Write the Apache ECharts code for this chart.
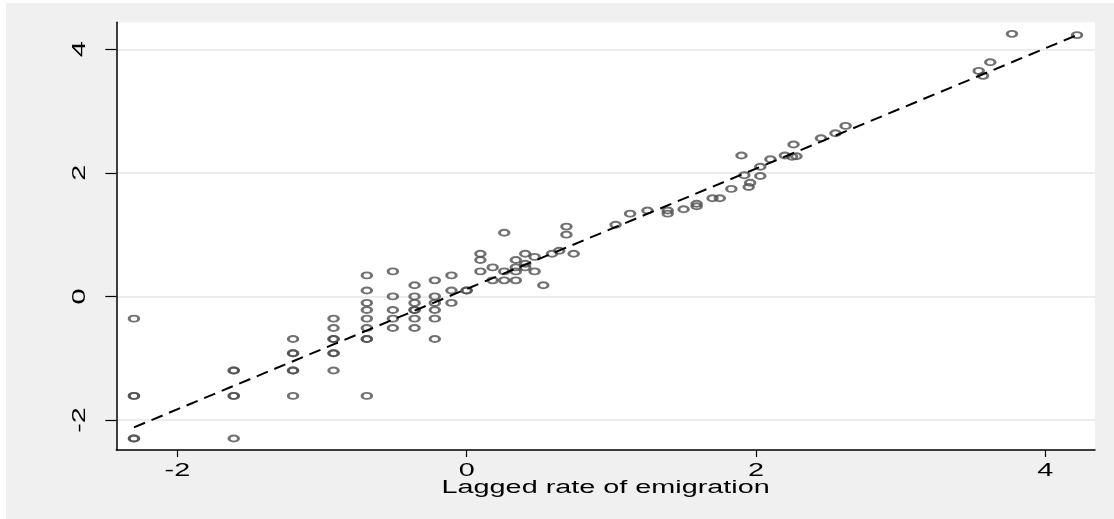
<!DOCTYPE html>
<html><head><meta charset="utf-8">
<script src="https://cdn.jsdelivr.net/npm/echarts@6/dist/echarts.min.js"></script>
<style>
html,body{margin:0;padding:0;background:#fff;}
#c{position:absolute;left:6px;top:3px;width:1108px;height:516px;background:#f0f0f0;}
</style>
</head><body><div id="c"></div>
<script>
// Lagged rate of emigration (x) and current rate (y)
const lagged = [
  -2.30,-2.30,-2.30,-2.30,-2.30,
  -1.61,-1.61,-1.61,-1.61,-1.61,
  -1.20,-1.20,-1.20,-1.20,-1.20,-1.20,
  -0.92,-0.92,-0.92,-0.92,-0.92,-0.92,-0.92,
  -0.69,-0.69,-0.69,-0.69,-0.69,-0.69,-0.69,-0.69,-0.69,
  -0.51,-0.51,-0.51,-0.51,-0.51,
  -0.36,-0.36,-0.36,-0.36,-0.36,-0.36,-0.36,
  -0.22,-0.22,-0.22,-0.22,-0.22,-0.22,
  -0.105,-0.105,-0.105,
  0.00,0.00,
  0.095,0.095,0.095,
  0.18,0.18,
  0.26,0.26,0.26,
  0.34,0.34,0.34,0.34,
  0.405,0.405,0.405,
  0.47,0.47,
  0.53,0.59,0.64,0.69,0.69,0.74,
  1.03,1.13,1.25,1.39,1.39,1.50,1.59,1.59,1.70,1.75,1.83,1.90,1.92,1.95,1.96,
  2.03,2.03,2.10,2.20,2.26,2.25,2.28,2.45,2.55,2.62,
  3.54,3.57,3.62,3.77,4.22
];
const current = [
  -0.36,-1.61,-1.61,-2.30,-2.30,
  -1.20,-1.20,-1.61,-1.61,-2.30,
  -0.69,-0.92,-0.92,-1.20,-1.20,-1.61,
  -0.36,-0.51,-0.69,-0.69,-0.92,-0.92,-1.20,
  0.34,0.095,-0.105,-0.22,-0.36,-0.51,-0.69,-0.69,-1.61,
  0.405,0.00,-0.22,-0.36,-0.51,
  0.18,0.00,-0.105,-0.22,-0.22,-0.36,-0.51,
  0.26,0.00,-0.105,-0.22,-0.36,-0.69,
  0.34,0.095,-0.105,
  0.095,0.095,
  0.69,0.59,0.405,
  0.47,0.26,
  1.03,0.405,0.26,
  0.59,0.47,0.405,0.26,
  0.69,0.53,0.47,
  0.64,0.405,
  0.18,0.69,0.74,1.13,1.00,0.69,
  1.16,1.34,1.39,1.39,1.34,1.41,1.50,1.46,1.59,1.59,1.74,2.28,1.96,1.77,1.84,
  2.10,1.95,2.22,2.28,2.46,2.26,2.27,2.56,2.64,2.76,
  3.65,3.57,3.79,4.25,4.23
];
// Fitted line endpoints
const fitX = [-2.30, 4.22];
const fitY = [-2.12, 4.23];
const xTicks = [-2, 0, 2, 4];
const yTicks = [-2, 0, 2, 4];
const xTitle = 'Lagged rate of emigration';

const font = 'Liberation Sans, Arial, sans-serif';
const FS = 18, WIDE = 1.6;
const chart = echarts.init(document.getElementById('c'), null, {renderer:'canvas'});
chart.setOption({
  animation: false,
  backgroundColor: '#f0f0f0',
  grid: {
    left: 110.3, top: 19.3, right: 19, bottom: 69,
    show: true, backgroundColor: '#ffffff', borderWidth: 0,
    containLabel: false, outerBoundsMode: 'none'
  },
  xAxis: {
    type: 'value', min: -2.422, max: 4.344,
    axisLine: {show: true, onZero: false, lineStyle: {color: '#000', width: 1.5}},
    axisTick: {show: true, length: 7, customValues: xTicks, lineStyle: {color: '#000', width: 1.2}},
    axisLabel: {show: false, customValues: xTicks},
    splitLine: {show: false}
  },
  yAxis: {
    type: 'value', min: -2.486, max: 4.437,
    axisLine: {show: true, onZero: false, lineStyle: {color: '#000', width: 1.5}},
    axisTick: {show: true, length: 11, customValues: yTicks, lineStyle: {color: '#000', width: 1.2}},
    axisLabel: {show: false, customValues: yTicks},
    splitLine: {show: true, lineStyle: {color: '#e6e6e6', width: 1.5}}
  },
  series: [
    {
      type: 'scatter',
      data: lagged.map((x, i) => [x, current[i]]),
      symbol: 'circle',
      symbolSize: [9.5, 6],
      itemStyle: {color: 'rgba(0,0,0,0)', borderColor: '#4f4f4f', borderWidth: 2.4},
      emphasis: {disabled: true},
      silent: true, z: 2
    },
    {
      type: 'line',
      data: fitX.map((x, i) => [x, fitY[i]]),
      symbol: 'none',
      lineStyle: {color: '#000', width: 2, type: [12, 7]},
      silent: true, z: 3
    }
  ]
});

// Wide (horizontally stretched) tick labels and axis title, placed via the axis scales
const ts = (t) => ({text: t, fontSize: FS, fontFamily: font, fill: '#000', align: 'center', verticalAlign: 'middle'});
const els = [];
xTicks.forEach(v => {
  els.push({type: 'text', x: chart.convertToPixel({xAxisIndex: 0}, v), y: 468, scaleX: WIDE, style: ts(String(v)), silent: true});
});
yTicks.forEach(v => {
  els.push({type: 'text', x: 74, y: chart.convertToPixel({yAxisIndex: 0}, v), rotation: Math.PI / 2, scaleX: WIDE, style: ts(String(v)), silent: true});
});
const xl = chart.convertToPixel({xAxisIndex: 0}, -2.422), xr = chart.convertToPixel({xAxisIndex: 0}, 4.344);
els.push({type: 'text', x: (xl + xr) / 2, y: 485, scaleX: WIDE, style: ts(xTitle), silent: true});
chart.setOption({graphic: {elements: els}});
</script>
</body></html>
